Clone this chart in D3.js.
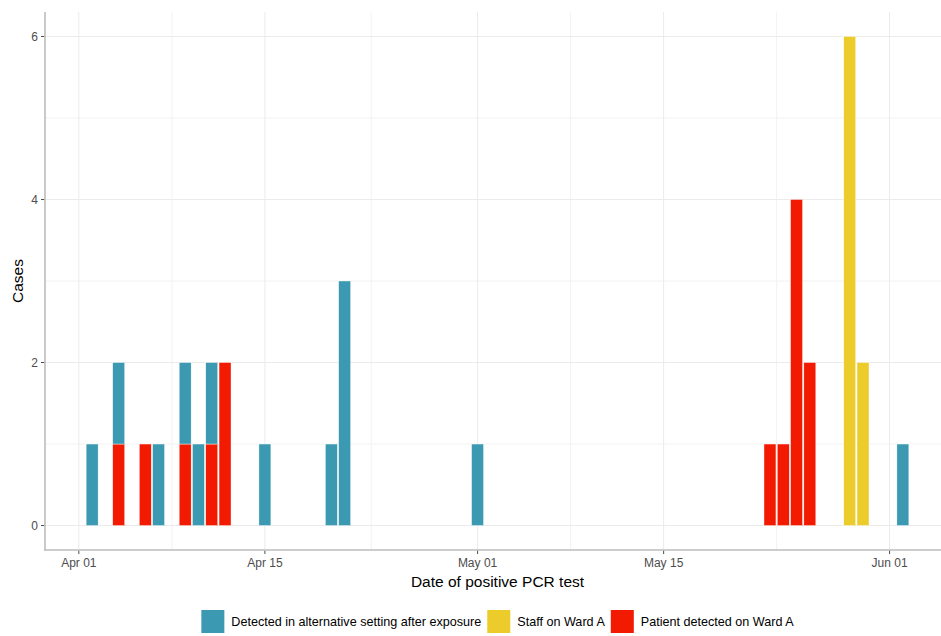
<!DOCTYPE html>
<html lang="en">
<head>
<meta charset="UTF-8">
<title>Cases by date of positive PCR test</title>
<script src="https://d3js.org/d3.v7.min.js"></script>
<style>
	body { margin: 0; background: white; }
	svg { display: block; font-family: "Liberation Sans", Arial, Helvetica, sans-serif; }
	.grid line { stroke: #ebebeb; stroke-width: 1; }
	.grid line.minor { stroke: #f2f2f2; }
	.axis-line { stroke: #bdbdbd; stroke-width: 1.6; }
	.tick-mark { stroke: #4d4d4d; stroke-width: 1; }
	.tick-label { fill: #4d4d4d; font-size: 12px; }
	.axis-title { fill: black; font-size: 15.5px; }
	.legend text { fill: black; font-size: 12.6px; }
</style>
</head>
<body>
<div id="chart"></div>
<script>
	// values
	const categories = ["Detected in alternative setting after exposure", "Staff on Ward A", "Patient detected on Ward A"]
	const colors = ["#3B9AB2", "#EBCC2A", "#F21A00"]
	const days = ["2020-04-02", "2020-04-04", "2020-04-06", "2020-04-07", "2020-04-09", "2020-04-10", "2020-04-11",
		"2020-04-12", "2020-04-15", "2020-04-20", "2020-04-21", "2020-05-01", "2020-05-23", "2020-05-24",
		"2020-05-25", "2020-05-26", "2020-05-29", "2020-05-30", "2020-06-02"]
	const detected = [1, 1, 0, 1, 1, 1, 1, 0, 1, 1, 3, 1, 0, 0, 0, 0, 0, 0, 1]
	const staff    = [0, 0, 0, 0, 0, 0, 0, 0, 0, 0, 0, 0, 0, 0, 0, 0, 6, 2, 0]
	const patient  = [0, 1, 1, 0, 1, 0, 1, 2, 0, 0, 0, 0, 1, 1, 4, 2, 0, 0, 0]
	const yTicks = [0, 2, 4, 6]
	const xTicks = ["2020-04-01", "2020-04-15", "2020-05-01", "2020-05-15", "2020-06-01"]
	const xMinor = ["2020-04-08", "2020-04-23", "2020-05-08", "2020-05-23T12:00"]

	const width = 941, height = 636
	const panel = { left: 45, right: 950, top: 12, bottom: 550 }
	const DAY = 864e5

	const parse = s => new Date(s.length > 10 ? s + "Z" : s + "T00:00Z")
	const rows = days.map((d, i) => ({
		date: parse(d),
		detected: detected[i],
		staff: staff[i],
		patient: patient[i]
	}))

	// ggplot style limits: bar half width plus 5% expansion
	const lo = +rows[0].date - 0.45 * DAY
	const hi = +rows[rows.length - 1].date + 0.45 * DAY
	const pad = (hi - lo) * 0.05
	const x = d3.scaleUtc().domain([new Date(lo - pad), new Date(hi + pad)]).range([panel.left, panel.right])
	const y = d3.scaleLinear().domain([-0.3, 6.3]).range([panel.bottom, panel.top])

	const svg = d3.select("#chart").append("svg")
		.attr("width", width)
		.attr("height", height)

	const grid = svg.append("g").classed("grid", true)
	grid.selectAll(".ymin").data([1, 3, 5]).join("line")
		.attr("class", "ymin minor")
		.attr("x1", panel.left).attr("x2", panel.right)
		.attr("y1", d => y(d)).attr("y2", d => y(d))
	grid.selectAll(".xmin").data(xMinor.map(parse)).join("line")
		.attr("class", "xmin minor")
		.attr("x1", d => x(d)).attr("x2", d => x(d))
		.attr("y1", panel.top).attr("y2", panel.bottom)
	grid.selectAll(".ymaj").data(yTicks).join("line")
		.attr("class", "ymaj")
		.attr("x1", panel.left).attr("x2", panel.right)
		.attr("y1", d => y(d)).attr("y2", d => y(d))
	grid.selectAll(".xmaj").data(xTicks.map(parse)).join("line")
		.attr("class", "xmaj")
		.attr("x1", d => x(d)).attr("x2", d => x(d))
		.attr("y1", panel.top).attr("y2", panel.bottom)

	// red at the bottom, teal on top, as ggplot stacks them
	const keys = ["patient", "staff", "detected"]
	const keyColor = { detected: colors[0], staff: colors[1], patient: colors[2] }
	const stacked = d3.stack().keys(keys)(rows)

	const bw = x(new Date(+rows[0].date + 0.9 * DAY)) - x(rows[0].date)
	svg.append("g").classed("bars", true)
		.selectAll("g")
		.data(stacked)
		.join("g")
		.attr("fill", s => keyColor[s.key])
		.selectAll("rect")
		.data(s => s.filter(d => d[1] > d[0]))
		.join("rect")
		.attr("x", d => x(d.data.date) - bw / 2)
		.attr("width", bw)
		.attr("y", d => y(d[1]))
		.attr("height", d => y(d[0]) - y(d[1]))
		.attr("stroke", "white")
		.attr("stroke-width", 0.4)

	// axes
	svg.append("line").classed("axis-line", true)
		.attr("x1", panel.left).attr("x2", panel.left)
		.attr("y1", panel.top).attr("y2", panel.bottom + 0.8)
	svg.append("line").classed("axis-line", true)
		.attr("x1", panel.left - 0.8).attr("x2", panel.right)
		.attr("y1", panel.bottom).attr("y2", panel.bottom)

	const yAxis = svg.append("g")
	yAxis.selectAll("line").data(yTicks).join("line").classed("tick-mark", true)
		.attr("x1", panel.left - 4).attr("x2", panel.left - 0.8)
		.attr("y1", d => y(d)).attr("y2", d => y(d))
	yAxis.selectAll("text").data(yTicks).join("text").classed("tick-label", true)
		.attr("x", panel.left - 7)
		.attr("y", d => y(d))
		.attr("dy", "0.36em")
		.attr("text-anchor", "end")
		.text(d => d)

	const fmt = d3.utcFormat("%b %d")
	const xAxis = svg.append("g")
	xAxis.selectAll("line").data(xTicks.map(parse)).join("line").classed("tick-mark", true)
		.attr("x1", d => x(d)).attr("x2", d => x(d))
		.attr("y1", panel.bottom + 0.8).attr("y2", panel.bottom + 4)
	xAxis.selectAll("text").data(xTicks.map(parse)).join("text").classed("tick-label", true)
		.attr("x", d => x(d))
		.attr("y", panel.bottom + 17)
		.attr("text-anchor", "middle")
		.text(d => fmt(d))

	svg.append("text").classed("axis-title", true)
		.attr("x", (panel.left + panel.right) / 2)
		.attr("y", 587)
		.attr("text-anchor", "middle")
		.text("Date of positive PCR test")
	svg.append("text").classed("axis-title", true)
		.attr("transform", `translate(23,${(panel.top + panel.bottom) / 2}) rotate(-90)`)
		.attr("text-anchor", "middle")
		.text("Cases")

	// legend, laid out from the measured text widths and centred on the panel
	const legend = svg.append("g").classed("legend", true)
	const items = legend.selectAll("g").data(categories).join("g")
	items.append("rect")
		.attr("width", 23).attr("height", 23)
		.attr("y", 610)
		.attr("fill", (d, i) => colors[i])
	items.append("text")
		.attr("x", 30)
		.attr("y", 621.5)
		.attr("dy", "0.36em")
		.text(d => d)
	let offs = 0
	const offsets = []
	items.each(function () {
		offsets.push(offs)
		offs += 30 + this.querySelector("text").getComputedTextLength() + 6
	})
	const total = offs - 6
	const start = (panel.left + panel.right) / 2 - total / 2
	items.attr("transform", (d, i) => `translate(${start + offsets[i]},0)`)
</script>
</body>
</html>
